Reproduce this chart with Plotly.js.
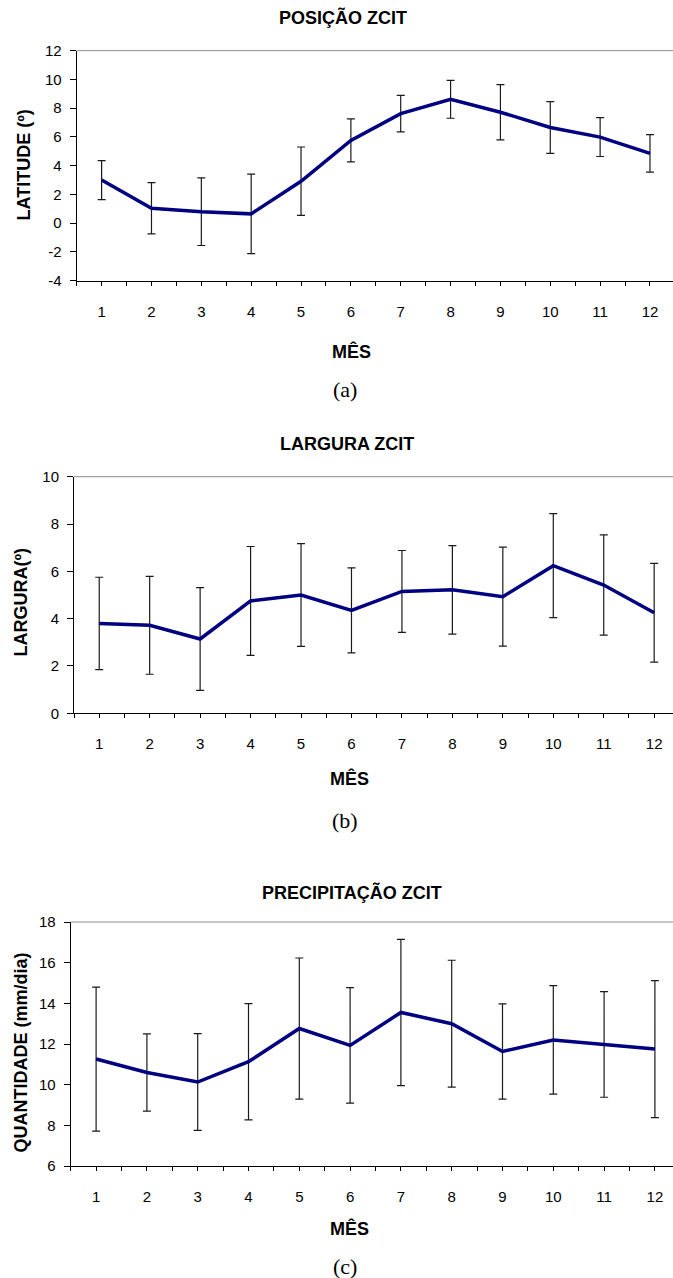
<!DOCTYPE html>
<html>
<head>
<meta charset="utf-8">
<script src="https://cdn.plot.ly/plotly-3.0.1.min.js"></script>
<style>html,body{margin:0;padding:0;background:#fff;}#chart{width:673px;height:1278px;}</style>
</head>
<body>
<div id="chart"></div>
<script>
// ---- data ----
const months = [1, 2, 3, 4, 5, 6, 7, 8, 9, 10, 11, 12];
const monthLabels = ['1', '2', '3', '4', '5', '6', '7', '8', '9', '10', '11', '12'];

const posicao    = [3.0, 1.04, 0.8, 0.65, 2.92, 5.76, 7.62, 8.62, 7.72, 6.66, 5.99, 4.86];
const posicaoErr = [1.36, 1.78, 2.35, 2.76, 2.38, 1.5, 1.27, 1.32, 1.92, 1.8, 1.35, 1.3];

const largura    = [3.8, 3.72, 3.14, 4.75, 5.0, 4.35, 5.15, 5.22, 4.93, 6.24, 5.42, 4.25];
const larguraErr = [1.95, 2.07, 2.17, 2.3, 2.17, 1.8, 1.73, 1.87, 2.09, 2.2, 2.12, 2.09];

const precip    = [11.26, 10.6, 10.13, 11.13, 12.76, 11.93, 13.55, 13.0, 11.63, 12.2, 11.98, 11.75];
const precipErr = [3.54, 1.9, 2.38, 2.86, 3.47, 2.84, 3.6, 3.12, 2.34, 2.67, 2.6, 3.37];

const yTicksA = [-4, -2, 0, 2, 4, 6, 8, 10, 12];
const yLabelsA = ['-4', '-2', '0', '2', '4', '6', '8', '10', '12'];
const yTicksB = [0, 2, 4, 6, 8, 10];
const yLabelsB = ['0', '2', '4', '6', '8', '10'];
const yTicksC = [6, 8, 10, 12, 14, 16, 18];
const yLabelsC = ['6', '8', '10', '12', '14', '16', '18'];

// ---- helpers ----
const W = 673, H = 1278;
const px = v => v / W;
const py = v => 1 - v / H;

const tickvals = [], ticktext = [];
months.forEach((m, i) => {
  tickvals.push(m - 0.5); ticktext.push('');
  tickvals.push(m); ticktext.push(monthLabels[i]);
});
tickvals.push(months[months.length - 1] + 0.5); ticktext.push('');

const tickFont = {family: 'Liberation Sans, Arial, sans-serif', size: 15, color: '#000'};
const boldFont = {family: 'Liberation Sans, Arial, sans-serif', size: 18, color: '#000', weight: 'bold'};
const serifFont = {family: 'Liberation Serif, Times New Roman, serif', size: 22, color: '#000'};

function trace(y, err, xa, ya) {
  return {
    x: months, y: y, xaxis: xa, yaxis: ya, type: 'scatter', mode: 'lines',
    line: {color: '#000080', width: 3.5},
    error_y: {type: 'data', array: err, visible: true, color: '#1a1a1a', thickness: 1.2, width: 4},
    hoverinfo: 'skip'
  };
}

function xaxis(left, spacing, anchor) {
  return {
    domain: [px(left), 1],
    range: [0.5, 0.5 + (W - left) / spacing],
    anchor: anchor,
    tickmode: 'array', tickvals: tickvals, ticktext: ticktext,
    ticks: 'outside', ticklen: 4, tickcolor: '#000', tickwidth: 1,
    showline: true, linecolor: '#000', linewidth: 1,
    showgrid: false, zeroline: false,
    tickfont: tickFont, ticklabelstandoff: 13
  };
}
function yaxis(top, bottom, range, ticks, labels, anchor) {
  return {
    domain: [py(bottom), py(top)],
    range: range, anchor: anchor,
    tickmode: 'array', tickvals: ticks, ticktext: labels,
    ticks: 'outside', ticklen: 6, tickcolor: '#000', tickwidth: 1,
    showline: true, linecolor: '#000', linewidth: 1,
    showgrid: false, zeroline: false,
    tickfont: tickFont, ticklabelstandoff: 5
  };
}

const data = [
  trace(posicao, posicaoErr, 'x', 'y'),
  trace(largura, larguraErr, 'x2', 'y2'),
  trace(precip, precipErr, 'x3', 'y3')
];

function ann(text, x, y, font, angle) {
  return {text: text, x: px(x), y: py(y), xref: 'paper', yref: 'paper',
          xanchor: 'center', yanchor: 'middle', showarrow: false, font: font,
          textangle: angle || 0};
}

const layout = {
  width: W, height: H,
  margin: {l: 0, r: 0, t: 0, b: 0},
  paper_bgcolor: '#fff', plot_bgcolor: '#fff',
  showlegend: false,
  xaxis: xaxis(76.7, 49.85, 'y'),
  yaxis: yaxis(50.7, 280.7, [-4, 12], yTicksA, yLabelsA, 'x'),
  xaxis2: xaxis(74, 50.45, 'y2'),
  yaxis2: yaxis(476.7, 713.3, [0, 10], yTicksB, yLabelsB, 'x2'),
  xaxis3: xaxis(70.7, 50.8, 'y3'),
  yaxis3: yaxis(922, 1166, [6, 18], yTicksC, yLabelsC, 'x3'),
  shapes: ['x', 'x2', 'x3'].map((xa, i) => ({
    type: 'line', xref: xa + ' domain', yref: (i === 0 ? 'y' : 'y' + (i + 1)) + ' domain',
    x0: 0, x1: 1, y0: 1, y1: 1, line: {color: '#8c8c8c', width: 1}
  })),
  annotations: [
    ann('POSIÇÃO ZCIT', 342.5, 18, boldFont),
    ann('LATITUDE (º)', 23.5, 165, boldFont, -90),
    ann('MÊS', 351, 351, boldFont),
    ann('(a)', 345.5, 390, serifFont),

    ann('LARGURA ZCIT', 347, 443.7, boldFont),
    ann('LARGURA(º)', 20.5, 602, boldFont, -90),
    ann('MÊS', 349, 778.7, boldFont),
    ann('(b)', 345.5, 821, serifFont),

    ann('PRECIPITAÇÃO ZCIT', 351.5, 892, boldFont),
    ann('QUANTIDADE (mm/dia)', 20.5, 1053, boldFont, -90),
    ann('MÊS', 349.4, 1228.3, boldFont),
    ann('(c)', 345.5, 1266, serifFont)
  ]
};

Plotly.newPlot('chart', data, layout, {staticPlot: true, displayModeBar: false});
</script>
</body>
</html>
